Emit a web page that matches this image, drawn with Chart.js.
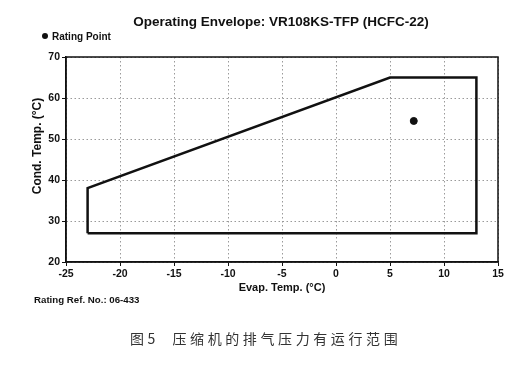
<!DOCTYPE html>
<html>
<head>
<meta charset="utf-8">
<script src="https://cdn.jsdelivr.net/npm/chart.js@4"></script>
<style>
  html, body { margin: 0; padding: 0; background: #fff; }
  #wrap { position: relative; width: 517px; height: 368px; }
  #caption {
    position: absolute; left: 130px; top: 328px;
    font-family: "Noto Sans CJK SC", sans-serif; font-size: 14px;
    color: #333; letter-spacing: 3.6px; white-space: pre;
  }
</style>
</head>
<body>
<div id="wrap">
  <canvas id="envChart" width="517" height="368"></canvas>
  <div id="caption">图5  压缩机的排气压力有运行范围</div>
</div>
<script>
// envelope corners (evap temp, cond temp), closed
const envEvap = [-23, -23, 5, 13, 13, -23];
const envCond = [27, 38, 65, 65, 27, 27];
// rating point
const ratingEvap = [7.2];
const ratingCond = [54.4];
// axes
const xTicks = [-25, -20, -15, -10, -5, 0, 5, 10, 15];
const yTicks = [20, 30, 40, 50, 60, 70];

const chartTitle = 'Operating Envelope: VR108KS-TFP (HCFC-22)';
const FONT = '"Liberation Sans", Arial, sans-serif';

const extraText = {
  id: 'extraText',
  beforeDatasetsDraw(chart) {
    // frame round the plot area
    const { ctx, chartArea: a } = chart;
    ctx.save();
    ctx.strokeStyle = '#111';
    ctx.lineWidth = 1.5;
    ctx.strokeRect(a.left, a.top, a.right - a.left, a.bottom - a.top);
    ctx.restore();
  },
  afterDraw(chart) {
    const { ctx, chartArea: a } = chart;
    ctx.save();
    ctx.fillStyle = '#111';
    ctx.textBaseline = 'middle';

    ctx.font = 'bold 13.5px ' + FONT;
    ctx.textAlign = 'center';
    ctx.fillText(chartTitle, 281, 22);

    // legend for the rating point
    ctx.beginPath();
    ctx.arc(45, 36, 3, 0, Math.PI * 2);
    ctx.fill();
    ctx.font = 'bold 10px ' + FONT;
    ctx.textAlign = 'left';
    ctx.fillText('Rating Point', 52, 37);

    ctx.font = 'bold 11px ' + FONT;
    ctx.textAlign = 'center';
    ctx.fillText('Evap. Temp. (°C)', (a.left + a.right) / 2, 288);

    ctx.font = 'bold 9.7px ' + FONT;
    ctx.textAlign = 'left';
    ctx.fillText('Rating Ref. No.: 06-433', 34, 300);

    ctx.translate(38, 146);
    ctx.rotate(-Math.PI / 2);
    ctx.font = 'bold 12px ' + FONT;
    ctx.textAlign = 'center';
    ctx.fillText('Cond. Temp. (°C)', 0, 0);
    ctx.restore();
  }
};

const gridOpts = {
  color: '#9a9a9a',
  tickColor: '#111',
  tickBorderDash: [],
  tickLength: 4,
  tickWidth: 1
};
// v4 keeps the grid line dash on the border options
const borderOpts = { color: '#111', width: 1.5, dash: [1.5, 2.5] };

new Chart(document.getElementById('envChart'), {
  type: 'scatter',
  data: {
    datasets: [{
      label: 'Envelope',
      data: envEvap.map((x, i) => ({ x: x, y: envCond[i] })),
      showLine: true,
      borderColor: '#111',
      borderWidth: 2.5,
      pointRadius: 0,
      fill: false
    }, {
      label: 'Rating Point',
      data: ratingEvap.map((x, i) => ({ x: x, y: ratingCond[i] })),
      backgroundColor: '#111',
      borderColor: '#111',
      pointRadius: 3.5
    }]
  },
  options: {
    responsive: false,
    animation: false,
    layout: { padding: { top: 57, right: 19, left: 0, bottom: 0 } },
    plugins: { legend: { display: false }, tooltip: { enabled: false } },
    scales: {
      x: {
        type: 'linear',
        min: xTicks[0],
        max: xTicks[xTicks.length - 1],
        afterBuildTicks: s => { s.ticks = xTicks.map(v => ({ value: v })); },
        afterFit: s => { s.height = 106; },
        grid: gridOpts,
        border: borderOpts,
        ticks: { color: '#111', padding: 2, font: { family: FONT, size: 10.5, weight: 'bold' } }
      },
      y: {
        min: yTicks[0],
        max: yTicks[yTicks.length - 1],
        afterBuildTicks: s => { s.ticks = yTicks.map(v => ({ value: v })); },
        afterFit: s => { s.width = 66; },
        grid: gridOpts,
        border: borderOpts,
        ticks: { color: '#111', padding: 2, font: { family: FONT, size: 10.5, weight: 'bold' } }
      }
    }
  },
  plugins: [extraText]
});
</script>
</body>
</html>
